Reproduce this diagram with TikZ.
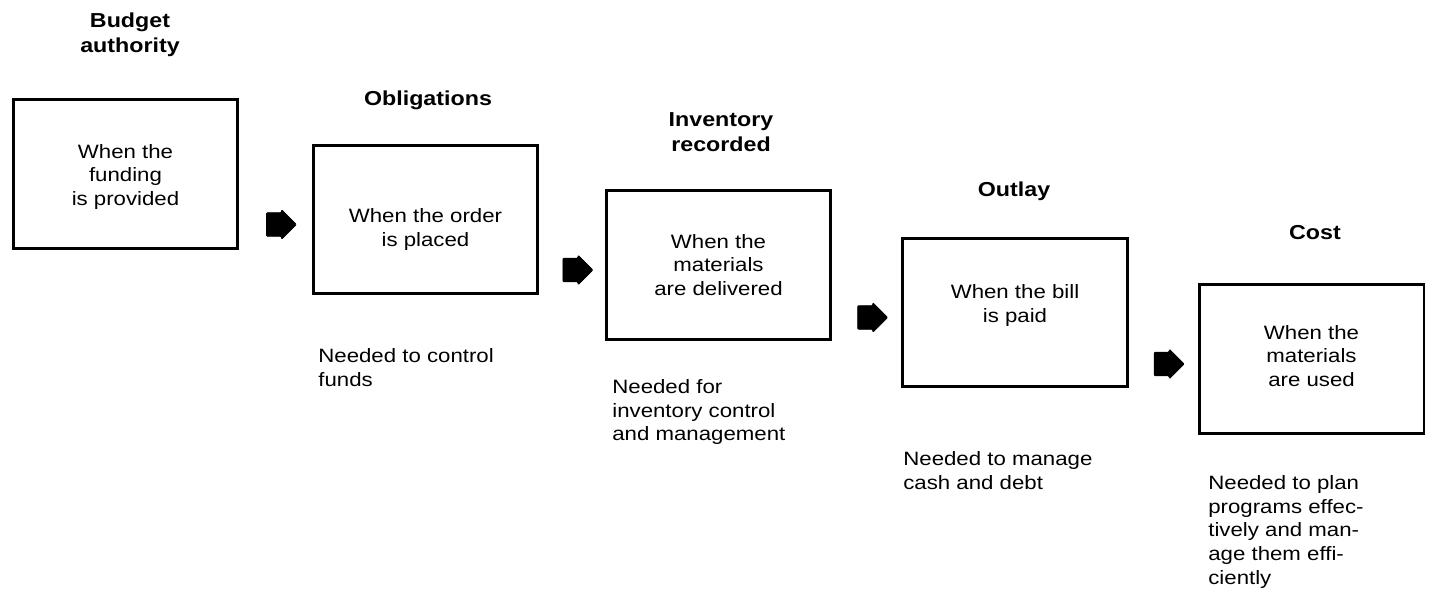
\documentclass[tikz,border=0pt]{standalone}
\usepackage{fontspec}
\setmainfont{Liberation Sans}[FakeStretch=1.15]
\usetikzlibrary{shapes.arrows,calc}

\tikzset{
    stagebox/.style={draw, line width=1.7pt, minimum width=4.5cm, minimum height=2.98cm},
    stagetext/.style={align=center, inner sep=0pt, font=\fontsize{11}{13.5}\selectfont},
    stagetitle/.style={align=center, inner sep=0pt, font=\fontsize{11.5}{14.2}\selectfont\bfseries},
    stagenote/.style={anchor=north west, inner sep=0pt, align=left, font=\fontsize{11}{13.5}\selectfont},
    blockarrow/.style={single arrow, draw, fill=black, line width=0.4pt, inner xsep=0pt, inner ysep=0.23cm, minimum height=0.6cm, single arrow head extend=0.06cm, single arrow tip angle=90, rounded corners=0.6pt}
}

\begin{document}
\begin{tikzpicture}[x=0.02cm,y=-0.02cm]
    \useasboundingbox (0,0) rectangle (1432,590);
    \foreach \i/\x/\y/\d/\t in {1/125.5/174/3/{When the\\funding\\is provided},
                                2/425.5/219.5/10/{When the order\\is placed},
                                3/718.5/265/0/{When the\\materials\\are delivered},
                                4/1015/312.5/-7/{When the bill\\is paid},
                                5/1311.5/359/-3/{When the\\materials\\are used}}{
        \node[stagebox] (b\i) at (\x,\y) {};
        \node[stagetext] (w\i) at ($(b\i)+(0,\d)$) {\t};
    }
    \foreach \a/\b in {1/2,2/3,3/4,4/5}{
        \node[blockarrow] (a\a) at ($(b\b.west)!0.5!(b\a.east |- b\b.west)+(0,5)$) {};
    }
    % titles
    \node[stagetitle] (t1) at (130,35) {Budget\\authority};
    \node[stagetitle] (t2) at (428,100) {Obligations};
    \node[stagetitle] (t3) at (721,132) {Inventory\\recorded};
    \node[stagetitle] (t4) at (1014,191) {Outlay};
    \node[stagetitle] (t5) at (1315,232.6) {Cost};
    % notes
    \node[stagenote] (n2) at (318,348) {Needed to control\\funds};
    \node[stagenote] (n3) at (612,379) {Needed for\\inventory control\\and management};
    \node[stagenote] (n4) at (903,451) {Needed to manage\\cash and debt};
    \node[stagenote] (n5) at (1208,475) {Needed to plan\\programs effec-\\tively and man-\\age them effi-\\ciently};
\end{tikzpicture}
\end{document}
